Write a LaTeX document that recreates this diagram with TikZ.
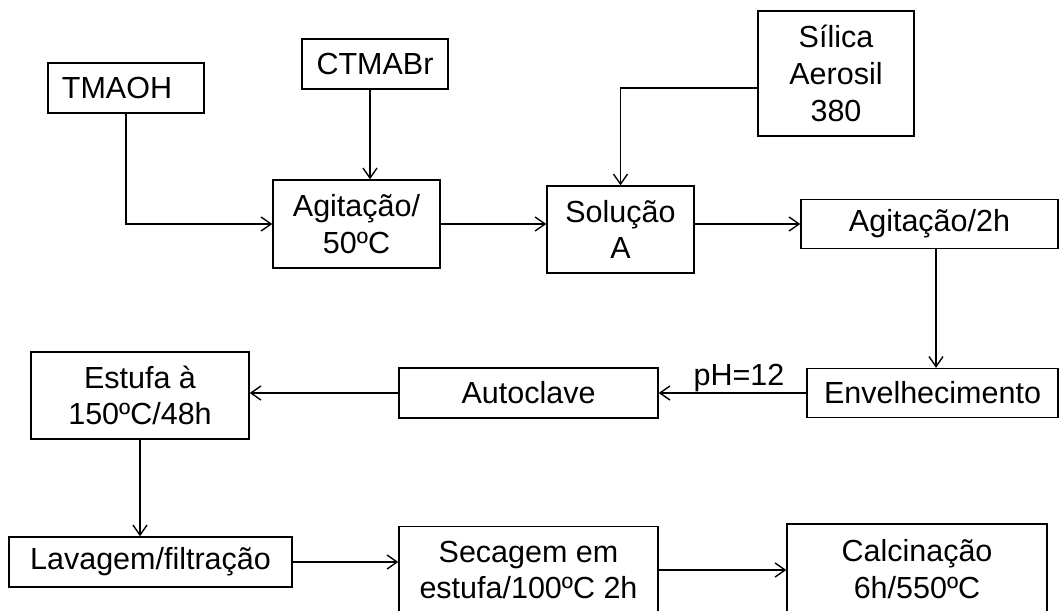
\documentclass[tikz,border=0pt]{standalone}
\usepackage{fontspec}
\setmainfont{Liberation Sans}
\usetikzlibrary{arrows.meta,calc}
\begin{document}
\begin{tikzpicture}[x=1pt,y=-1pt,
  box/.style={draw, line width=1.4pt, inner sep=0pt, align=center,
              font=\fontsize{30.5}{36.7}\selectfont},
  flow/.style={draw, line width=1.4pt, -{Straight Barb[length=10pt,width=14pt]}},
  lbl/.style={inner sep=0pt, font=\fontsize{30.5}{36.7}\selectfont}]
\useasboundingbox (0,0) rectangle (1059,610);

% raw materials
\node[box, minimum width=156pt, minimum height=50pt] (tmaoh) at (126,88) {TMAOH\hspace*{18pt}};
\node[box, minimum width=146pt, minimum height=50pt] (ctmabr) at (375,64) {CTMABr};
\node[box, minimum width=156pt, minimum height=125pt] (silica) at (836,73.5) {Sílica\\Aerosil\\380};

% synthesis steps
\node[box, minimum width=167pt, minimum height=88pt] (ag50) at (356.5,224) {Agitação/\\50ºC};
\node[box, minimum width=147pt, minimum height=87pt] (solA) at (620.5,229.5) {Solução\\A};
\node[box, minimum width=257pt, minimum height=49pt] (ag2h) at (929.5,224) {Agitação/2h};
\node[box, minimum width=251pt, minimum height=49pt] (envelh) at (932.5,393) {Envelhecimento};
\node[box, minimum width=259pt, minimum height=50pt] (autoclave) at (528.5,393) {Autoclave};
\node[box, minimum width=218pt, minimum height=87pt] (estufa) at (140,395.5) {Estufa à\\150ºC/48h};
\node[box, minimum width=283pt, minimum height=50pt] (lavagem) at (150.5,562) {Lavagem/filtração};
\node[box, minimum width=259pt, minimum height=87pt] (secagem) at (528.5,570) {Secagem em\\estufa/100ºC 2h};
\node[box, minimum width=260pt, minimum height=90pt] (calc) at (917,569) {Calcinação\\6h/550ºC};

% connectors
\draw[flow] (tmaoh.south) |- (ag50.west);
\draw[flow] ([xshift=-5pt]ctmabr.south) -- ([xshift=-5pt]ctmabr.south |- ag50.north);
\draw[flow] (ag50.east) -- (ag50.east -| solA.west);
\draw[flow] ([yshift=-14.5pt]silica.west) -| (solA.north);
\draw[flow] (ag2h.west -| solA.east) -- (ag2h.west);
\draw[flow] ([xshift=6.5pt]ag2h.south) -- ([xshift=6.5pt]ag2h.south |- envelh.north);
\draw[flow] (envelh.west) -- (envelh.west -| autoclave.east);
\node[lbl, anchor=base] (ph) at (739,385) {pH=12};
\draw[flow] (autoclave.west) -- (autoclave.west -| estufa.east);
\draw[flow] (estufa.south) -- (estufa.south |- lavagem.north);
\draw[flow] (lavagem.east) -- (lavagem.east -| secagem.west);
\draw[flow] (secagem.east) -- (secagem.east -| calc.west);
\end{tikzpicture}
\end{document}
